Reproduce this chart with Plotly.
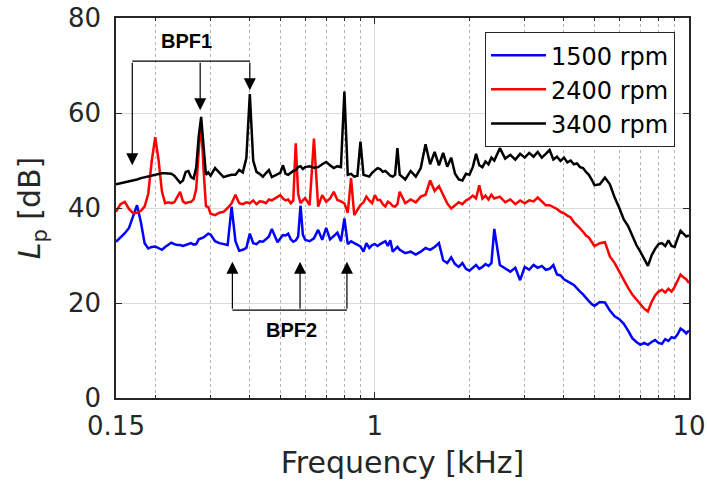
import math
import plotly.graph_objects as go

# Frequency grid [kHz]
freq_khz = [
    0.150, 0.155, 0.160, 0.165, 0.170, 0.175, 0.180, 0.185, 0.190, 0.195,
    0.200, 0.205, 0.210, 0.215, 0.220, 0.225, 0.230, 0.235, 0.240, 0.245,
    0.250, 0.255, 0.260, 0.265, 0.270, 0.275, 0.280, 0.285, 0.290, 0.295, 0.300,
    0.31, 0.32, 0.33, 0.34, 0.35, 0.36, 0.37, 0.38, 0.39, 0.40,
    0.41, 0.42, 0.43, 0.44, 0.45, 0.46, 0.47, 0.48, 0.49, 0.50,
    0.51, 0.52, 0.53, 0.54, 0.55, 0.56, 0.57, 0.58, 0.59, 0.60,
    0.62, 0.64, 0.66, 0.68, 0.70, 0.72, 0.74, 0.76, 0.78, 0.80,
    0.82, 0.84, 0.86, 0.88, 0.90, 0.92, 0.94, 0.96, 0.98, 1.00,
    1.02, 1.04, 1.06, 1.08, 1.10, 1.12, 1.14, 1.16, 1.18, 1.20,
    1.25, 1.30, 1.35, 1.40, 1.45, 1.50, 1.55, 1.60, 1.65, 1.70, 1.75, 1.80,
    1.85, 1.90, 1.95, 2.00, 2.05, 2.10, 2.15, 2.20, 2.25, 2.30, 2.35, 2.40,
    2.5, 2.6, 2.7, 2.8, 2.9, 3.0, 3.1, 3.2, 3.3, 3.4, 3.5, 3.6, 3.7,
    3.8, 3.9, 4.0, 4.1, 4.2, 4.3, 4.4, 4.5, 4.6, 4.7, 4.8, 4.9, 5.0,
    5.2, 5.4, 5.6, 5.8, 6.0, 6.2, 6.4, 6.6, 6.8, 7.0, 7.2, 7.4, 7.6,
    7.8, 8.0, 8.2, 8.4, 8.6, 8.8, 9.0, 9.2, 9.4, 9.6, 9.8, 10.0,
]

lp_1500 = [
    32.9, 33.8, 34.7, 35.8, 38.5, 40.6, 37.0, 32.6, 31.5, 31.8,
    31.9, 31.6, 31.2, 31.8, 32.3, 32.7, 32.4, 32.2, 32.2, 32.0,
    32.2, 32.4, 32.6, 32.3, 32.4, 33.4, 33.6, 33.8, 34.2, 34.6, 34.4,
    33.0, 32.6, 32.4, 32.2, 40.3, 33.0, 31.0, 31.2, 31.6, 34.6,
    32.6, 32.4, 33.0, 32.9, 33.4, 34.0, 35.6, 34.0, 32.8, 33.6,
    34.3, 34.2, 34.6, 33.4, 32.9, 33.2, 34.0, 40.5, 34.4, 33.3,
    33.0, 33.6, 35.4, 33.3, 35.8, 33.4, 34.2, 34.8, 33.0, 37.8,
    32.4, 33.0, 32.6, 32.2, 31.9, 30.8, 32.6, 31.6, 32.2, 32.4,
    32.0, 32.4, 32.8, 33.0, 32.0, 33.2, 30.8, 31.4, 31.8, 31.2,
    30.5, 30.8, 30.2, 30.8, 31.6, 31.2, 31.8, 32.6, 29.0, 28.4, 29.6, 28.2,
    27.6, 28.4, 27.2, 26.8, 27.4, 28.0, 27.2, 27.6, 28.2, 27.8, 28.4, 35.6,
    28.0, 27.2, 26.6, 27.4, 24.8, 27.6, 27.0, 28.0, 27.4, 27.8, 27.0, 27.2, 28.0,
    26.0, 25.8, 25.0, 24.5, 24.2, 23.8, 23.0, 22.4, 21.8, 21.0, 20.4, 19.8, 19.4,
    20.2, 20.1, 18.4, 17.2, 16.6, 15.6, 14.2, 12.6, 11.8, 11.2, 11.6, 11.2, 11.8,
    12.2, 11.6, 11.4, 12.4, 12.0, 12.8, 12.6, 13.4, 14.6, 14.2, 13.6, 14.2,
]

lp_2400 = [
    39.2, 40.8, 41.3, 39.8, 38.9, 39.0, 39.4, 40.3, 43.0, 50.0,
    54.9, 50.0, 43.5, 41.0, 41.2, 41.0, 41.2, 42.4, 43.4, 41.4,
    41.0, 41.2, 41.3, 41.8, 44.0, 52.0, 58.0, 48.0, 40.4, 40.2, 38.8,
    38.5, 39.0, 39.2, 40.0, 41.0, 42.8, 41.0, 40.8, 41.2, 41.0,
    41.6, 40.8, 41.4, 41.3, 41.0, 41.8, 41.6, 42.0, 42.4, 42.7,
    42.0, 41.6, 41.8, 41.0, 41.6, 53.6, 43.0, 41.0, 41.6, 42.1,
    40.6, 54.6, 40.3, 42.7, 41.3, 42.0, 43.4, 41.7, 41.4, 41.0,
    39.0, 46.3, 38.5, 39.6, 40.6, 41.2, 42.4, 41.6, 41.0, 42.7,
    41.7, 41.7, 40.8, 40.3, 41.3, 41.0, 40.4, 40.3, 40.8, 43.4,
    41.0, 41.8, 41.2, 42.4, 42.8, 45.8, 43.6, 44.6, 42.6, 41.0, 39.9, 40.6,
    41.2, 40.8, 41.6, 42.0, 42.6, 42.0, 44.8, 42.0, 42.6, 41.8, 42.8, 42.0,
    42.4, 41.2, 41.8, 40.8, 41.6, 41.0, 41.6, 41.4, 42.2, 41.4, 40.6, 40.6, 40.2,
    39.8, 39.2, 38.9, 38.4, 38.0, 37.0, 36.4, 35.7, 35.0, 34.2, 33.8, 32.8, 32.0,
    32.6, 32.8, 29.8, 28.4, 26.6, 24.8, 23.2, 21.8, 20.8, 19.9, 18.8, 18.2, 20.2,
    21.6, 22.4, 22.8, 22.2, 23.0, 22.4, 23.4, 24.6, 26.0, 25.4, 25.0, 24.2,
]

lp_3400 = [
    45.0, 45.2, 45.4, 45.5, 45.8, 46.0, 46.3, 46.5, 46.7, 46.9,
    47.1, 47.2, 47.3, 47.3, 47.3, 47.2, 46.8, 46.0, 45.3, 45.8,
    47.6, 47.8, 46.5, 46.2, 48.5, 55.0, 59.2, 53.0, 47.0, 47.5, 46.8,
    48.4, 47.5, 46.5, 46.8, 47.0, 47.0, 48.0, 47.5, 50.5, 64.0,
    50.0, 47.6, 47.2, 46.6, 47.2, 48.0, 46.5, 46.8, 47.0, 47.4,
    49.0, 47.2, 47.0, 47.5, 47.8, 48.0, 48.6, 48.8, 48.2, 48.6,
    48.8, 48.5, 48.6, 49.2, 49.7, 49.0, 48.4, 48.8, 48.6, 64.5,
    47.0, 47.2, 46.6, 46.8, 54.0, 47.0, 46.8, 46.6, 47.4, 48.0,
    48.4, 48.2, 47.6, 47.8, 47.2, 46.8, 46.6, 47.0, 52.6, 47.0,
    46.0, 47.8, 46.6, 48.4, 53.4, 49.2, 51.8, 49.0, 51.6, 48.7, 50.6, 47.2,
    46.0, 45.8, 47.2, 47.0, 48.6, 51.4, 49.0, 48.6, 49.8, 49.2, 50.6, 50.0,
    52.6, 50.4, 51.2, 50.2, 51.4, 50.6, 51.6, 50.8, 51.8, 50.6, 51.4, 52.2, 50.2,
    50.8, 49.9, 50.6, 49.6, 50.0, 49.2, 49.4, 48.6, 48.4, 47.6, 47.0, 46.0, 44.8,
    45.0, 46.4, 45.0, 42.2, 40.0, 37.6, 36.2, 34.2, 32.2, 30.8, 29.4, 27.8, 30.0,
    31.4, 32.4, 32.6, 32.0, 33.2, 32.0, 31.8, 33.6, 35.2, 34.6, 34.0, 34.2,
]

series_names = ["1500 rpm", "2400 rpm", "3400 rpm"]
series_colors = ["#0000ff", "#ff0000", "#000000"]

# BPF annotation values: arrow-tip frequencies [kHz], tip levels [dB]
bpf1_freqs = [0.169, 0.278, 0.400]
bpf1_tips = [49.0, 60.6, 64.8]
bpf1_level = 70.9
bpf2_freqs = [0.352, 0.578, 0.815]
bpf2_tips = [28.7, 28.7, 28.7]
bpf2_level = 18.5

x_major = [0.15, 1, 10]
x_major_text = ["0.15", "1", "10"]
x_minor = [0.2, 0.3, 0.4, 0.5, 0.6, 0.7, 0.8, 0.9, 2, 3, 4, 5, 6, 7, 8, 9]
y_ticks = [0, 20, 40, 60, 80]

FONT = "DejaVu Sans, Liberation Sans, Arial, sans-serif"

fig = go.Figure()
for name, color, vals in zip(series_names, series_colors, [lp_1500, lp_2400, lp_3400]):
    fig.add_trace(go.Scatter(x=freq_khz, y=vals, mode="lines", name=name,
                             line=dict(color=color, width=2.5)))

# bracket horizontal lines
fig.add_trace(go.Scatter(x=[bpf1_freqs[0], bpf1_freqs[-1]], y=[bpf1_level, bpf1_level],
                         mode="lines", line=dict(color="black", width=1.2),
                         showlegend=False, hoverinfo="skip"))
fig.add_trace(go.Scatter(x=[bpf2_freqs[0], bpf2_freqs[-1]], y=[bpf2_level, bpf2_level],
                         mode="lines", line=dict(color="black", width=1.2),
                         showlegend=False, hoverinfo="skip"))

annotations = []
for f, t in zip(bpf1_freqs, bpf1_tips):
    annotations.append(dict(x=math.log10(f), y=t, ax=math.log10(f), ay=bpf1_level,
                            xref="x", yref="y", axref="x", ayref="y", text="",
                            showarrow=True, arrowhead=2, arrowsize=2, arrowwidth=1.2,
                            arrowcolor="black"))
for f, t in zip(bpf2_freqs, bpf2_tips):
    annotations.append(dict(x=math.log10(f), y=t, ax=math.log10(f), ay=bpf2_level,
                            xref="x", yref="y", axref="x", ayref="y", text="",
                            showarrow=True, arrowhead=2, arrowsize=2, arrowwidth=1.2,
                            arrowcolor="black"))
annotations.append(dict(x=math.log10(0.252), y=75.2, xref="x", yref="y", text="<b>BPF1</b>",
                        showarrow=False, font=dict(family="Liberation Sans, Arial", size=20, color="black")))
annotations.append(dict(x=math.log10(0.544), y=14.3, xref="x", yref="y", text="<b>BPF2</b>",
                        showarrow=False, font=dict(family="Liberation Sans, Arial", size=20, color="black")))

axis_color = "#262626"
fig.update_layout(
    width=707, height=485,
    margin=dict(l=116, r=18, t=18, b=87, autoexpand=False),
    paper_bgcolor="white", plot_bgcolor="white",
    font=dict(family=FONT, size=26, color=axis_color),
    annotations=annotations,
    legend=dict(x=0.9756, xanchor="right", y=0.963, yanchor="top",
                bgcolor="white", bordercolor=axis_color, borderwidth=1,
                font=dict(family=FONT, size=24, color="black"), tracegroupgap=0,
                itemwidth=55),
    xaxis=dict(
        type="log", range=[math.log10(0.15), 1],
        tickmode="array", tickvals=x_major, ticktext=x_major_text,
        ticks="inside", ticklen=6, tickwidth=1.2, tickcolor=axis_color,
        showline=True, linecolor=axis_color, linewidth=1.5, mirror="ticks",
        showgrid=True, gridcolor="#dcdcdc", gridwidth=1, zeroline=False,
        automargin=False, ticklabelstandoff=4,
        minor=dict(tickmode="array", tickvals=x_minor, ticks="inside", ticklen=3,
                   tickcolor=axis_color, showgrid=True, gridcolor="#b4b4b4",
                   griddash="dot", gridwidth=1),
        title=dict(text="Frequency [kHz]", font=dict(family=FONT, size=30), standoff=12),
    ),
    yaxis=dict(
        range=[0, 80], tickmode="array", tickvals=y_ticks,
        ticks="inside", ticklen=6, tickwidth=1.2, tickcolor=axis_color,
        showline=True, linecolor=axis_color, linewidth=1.5, mirror="ticks",
        showgrid=True, gridcolor="#dcdcdc", gridwidth=1, zeroline=False,
        automargin=False, ticklabelstandoff=8,
        title=dict(text="<i>L</i><sub>p</sub> [dB]", font=dict(family=FONT, size=30), standoff=18),
    ),
)

fig.write_html("out.html", config={"displayModeBar": False},
               post_script="document.body.style.margin='0';")
